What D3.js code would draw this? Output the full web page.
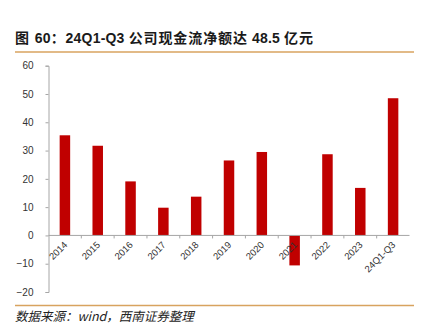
<!DOCTYPE html>
<html>
<head>
<meta charset="utf-8">
<script src="https://cdn.jsdelivr.net/npm/d3@7"></script>
<style>
  html, body { margin: 0; padding: 0; background: #fff; }
  svg { display: block; }
</style>
</head>
<body>
<svg id="chart" width="426" height="334"></svg>
<script>
const categories = ["2014", "2015", "2016", "2017", "2018", "2019", "2020", "2021", "2022", "2023", "24Q1-Q3"];
const values = [35.4, 31.7, 19.1, 9.8, 13.7, 26.5, 29.5, -10.6, 28.7, 16.8, 48.5];
const yTicks = [-20, -10, 0, 10, 20, 30, 40, 50, 60];
const titleParts = [["图 ", true], ["60", false], ["：", true], ["24Q1-Q3 ", false], ["公司现金流净额达", true], [" 48.5 ", false], ["亿元", true]];
const sourceText = "数据来源：wind，西南证券整理";

const svg = d3.select("#chart");
const font = "'Liberation Sans', Arial, 'Noto Sans CJK SC', sans-serif";
const axisColor = "#a6a6a6";
const lineColor = "#d8a35f";
const barColor = "#c00000";

// Title
const title = svg.append("text")
  .attr("x", 15).attr("y", 43)
  .attr("font-family", font)
  .attr("font-weight", "bold")
  .attr("font-size", 14)
  .attr("fill", "#1a1a1a");
title.selectAll("tspan").data(titleParts).join("tspan")
  .attr("letter-spacing", d => d[1] ? 0.9 : 0.2)
  .text(d => d[0]);

svg.append("line").attr("x1", 15).attr("x2", 414).attr("y1", 52).attr("y2", 52)
  .attr("stroke", lineColor).attr("stroke-width", 1.5);
svg.append("line").attr("x1", 15).attr("x2", 414).attr("y1", 305.5).attr("y2", 305.5)
  .attr("stroke", lineColor).attr("stroke-width", 1.5);

svg.append("text")
  .attr("x", 15).attr("y", 321)
  .attr("font-family", "'Noto Sans CJK SC', sans-serif")
  .attr("font-style", "italic")
  .attr("font-size", 12.5)
  .attr("fill", "#222")
  .text(sourceText);

const x = d3.scaleBand().domain(categories).range([48.5, 409.5]).padding(0);
const y = d3.scaleLinear().domain([-20, 60]).range([292, 65.7]);

// Y axis
const yAxis = svg.append("g").attr("transform", "translate(48.5,0)")
  .call(d3.axisLeft(y).tickValues(yTicks).tickSize(3).tickPadding(12));
yAxis.select(".domain").attr("stroke", axisColor);
yAxis.selectAll(".tick line").attr("stroke", axisColor);
yAxis.selectAll(".tick text").attr("font-family", font).attr("font-size", 10).attr("fill", "#333");

// Bars
const bw = 10.5;
svg.append("g").selectAll("rect").data(values).join("rect")
  .attr("x", (d, i) => x(categories[i]) + x.bandwidth() / 2 - bw / 2)
  .attr("width", bw)
  .attr("y", d => y(Math.max(0, d)))
  .attr("height", d => Math.abs(y(d) - y(0)))
  .attr("fill", barColor);

// X axis
const xg = svg.append("g").attr("transform", `translate(0,${y(0)})`);
xg.append("line").attr("x1", 48.5).attr("x2", 409.5).attr("y1", 0).attr("y2", 0)
  .attr("stroke", axisColor);
xg.selectAll("line.tk").data(categories.slice(1)).join("line").attr("class", "tk")
  .attr("x1", d => x(d)).attr("x2", d => x(d)).attr("y1", 0).attr("y2", 3)
  .attr("stroke", axisColor);
xg.selectAll("text").data(categories).join("text")
  .attr("transform", d => `translate(${x(d) + x.bandwidth() / 2 + 3},${10}) rotate(-45)`)
  .attr("text-anchor", "end")
  .attr("font-family", font)
  .attr("font-size", 9.5)
  .attr("fill", "#333")
  .text(d => d);
</script>
</body>
</html>
